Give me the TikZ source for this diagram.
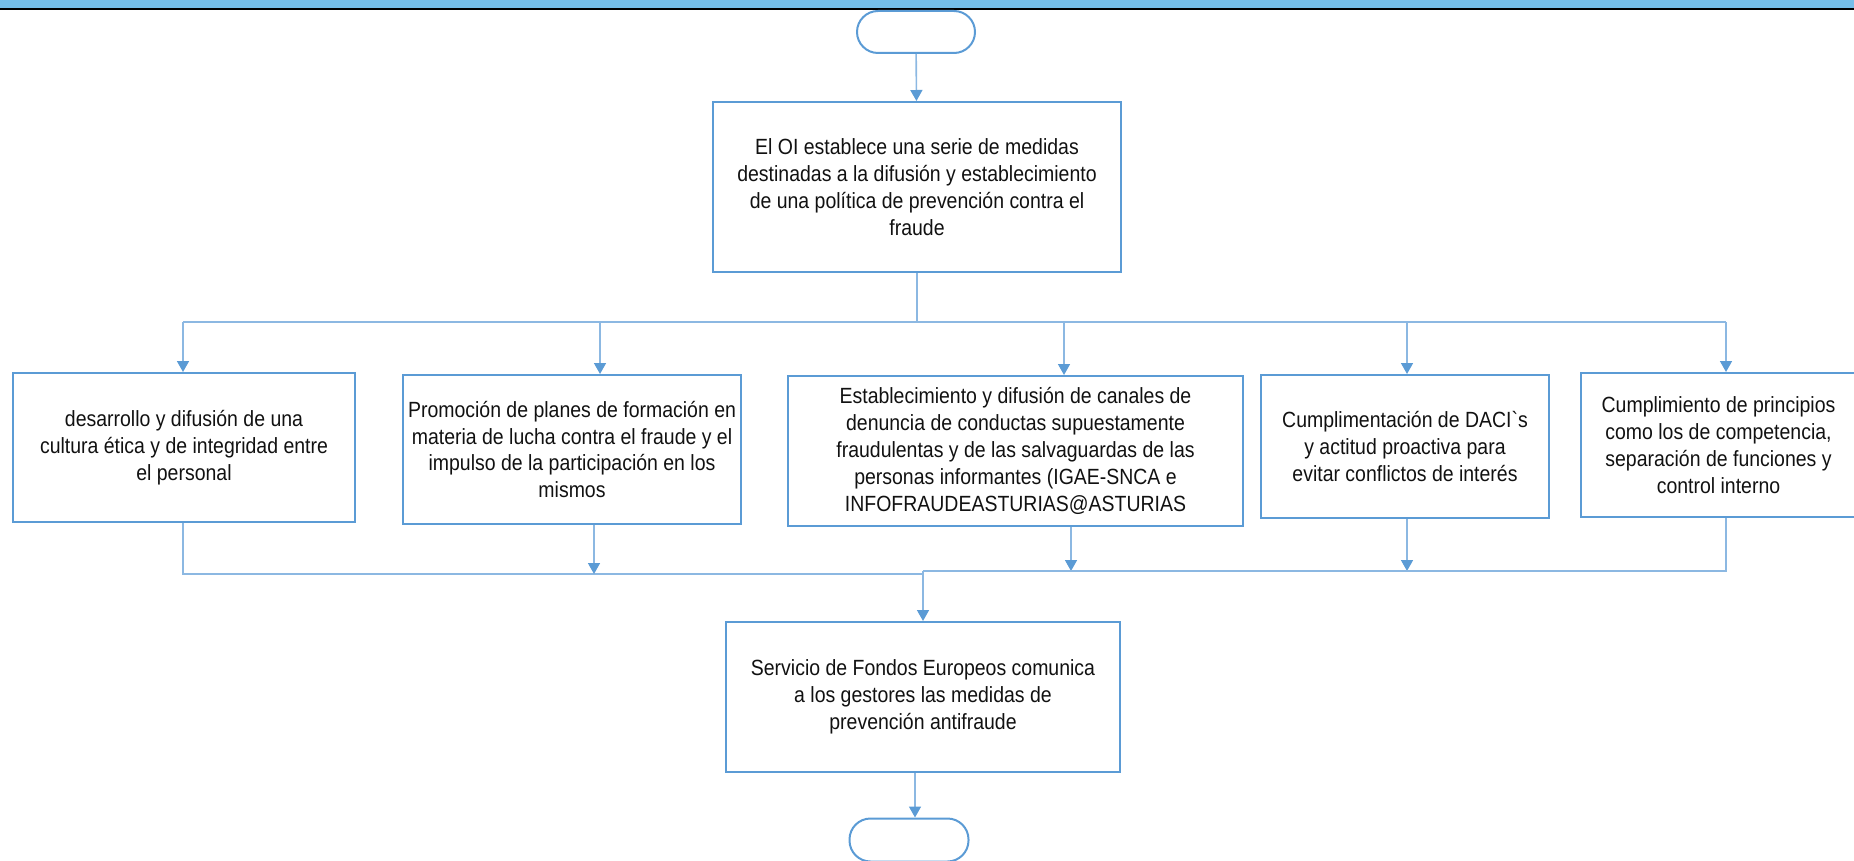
\documentclass[tikz,border=0pt]{standalone}
\usepackage{fontspec}
\newfontfamily\boxfont{Liberation Sans}[FakeStretch=0.885]
\usetikzlibrary{arrows.meta}
\definecolor{boxblue}{HTML}{5B9BD5}
\definecolor{linkblue}{HTML}{8CB8E2}
\definecolor{barblue}{HTML}{75BEE9}
\definecolor{txt}{HTML}{111111}
\begin{document}
\begin{tikzpicture}[x=1pt,y=-1pt,
  stepbox/.style={draw=boxblue,line width=2pt,align=center,inner sep=0pt,
    text=txt,font=\boxfont\fontsize{22}{26.8}\selectfont},
  term/.style={draw=boxblue,line width=2pt,rounded corners=21pt,inner sep=0pt},
  link/.style={draw=linkblue,line width=1.6pt},
  tip/.style={-{Triangle[width=12pt,length=11pt,color=boxblue]}}]
\useasboundingbox (0,0) rectangle (1854,861);
\clip (0,0) rectangle (1854,861);

% header band
\fill[barblue] (0,0) rectangle (1854,8);
\draw[black,line width=2pt] (0,9) -- (1854,9);

% terminals
\node[term,minimum width=118,minimum height=42] (start) at (916,32) {};
\node[term,minimum width=119,minimum height=43] (end) at (909,840) {};

% main boxes
\node[stepbox,minimum width=408,minimum height=170] (top) at (917,187)
  {El OI establece una serie de medidas\\destinadas a la difusión y establecimiento\\de una política de prevención contra el\\fraude};
\node[stepbox,minimum width=342,minimum height=149] (a) at (184,447.5)
  {desarrollo y difusión de una\\cultura ética y de integridad entre\\el personal};
\node[stepbox,minimum width=338,minimum height=149] (b) at (572,449.5)
  {Promoción de planes de formación en\\materia de lucha contra el fraude y el\\impulso de la participación en los\\mismos};
\node[stepbox,minimum width=455,minimum height=150] (c) at (1015.5,451)
  {Establecimiento y difusión de canales de\\denuncia de conductas supuestamente\\fraudulentas y de las salvaguardas de las\\personas informantes (IGAE-SNCA e\\INFOFRAUDEASTURIAS@ASTURIAS};
\node[stepbox,minimum width=288,minimum height=143] (d) at (1405,446.5)
  {Cumplimentación de DACI`s\\y actitud proactiva para\\evitar conflictos de interés};
\node[stepbox,minimum width=275,minimum height=144] (e) at (1718.5,445)
  {Cumplimiento de principios\\como los de competencia,\\separación de funciones y\\control interno};
\node[stepbox,minimum width=394,minimum height=150] (f) at (923,697)
  {Servicio de Fondos Europeos comunica\\a los gestores las medidas de\\prevención antifraude};

% branch points
\coordinate (split) at (917,322);
\coordinate (inA) at (183,322);
\coordinate (inB) at (600,322);
\coordinate (inC) at (1064,322);
\coordinate (inD) at (1407,322);
\coordinate (inE) at (1726,322);
\coordinate (jl) at (923,574);
\coordinate (jr) at (923,571);
\coordinate (mB) at (594,574);
\coordinate (mC) at (1071,571);
\coordinate (mD) at (1407,571);
\coordinate (fo) at (915,0);

% connectors
\draw[link,tip] (start) -- (top);
\draw[link] (top.south) -- (split);
\draw[link] (inA) -- (inE);
\draw[link,tip] (inA) -- (inA |- a.north);
\draw[link,tip] (inB) -- (inB |- b.north);
\draw[link,tip] (inC) -- (inC |- c.north);
\draw[link,tip] (inD) -- (inD |- d.north);
\draw[link,tip] (inE) -- (inE |- e.north);

\draw[link] (inA |- a.south) |- (jl);
\draw[link,tip] (mB |- b.south) -- (mB);
\draw[link,tip] (mC |- c.south) -- (mC);
\draw[link,tip] (mD |- d.south) -- (mD);
\draw[link] (inE |- e.south) |- (jr);
\draw[link,tip] (jr) -- (jr |- f.north);
\draw[link,tip] (fo |- f.south) -- (fo |- end.north);
\end{tikzpicture}
\end{document}
